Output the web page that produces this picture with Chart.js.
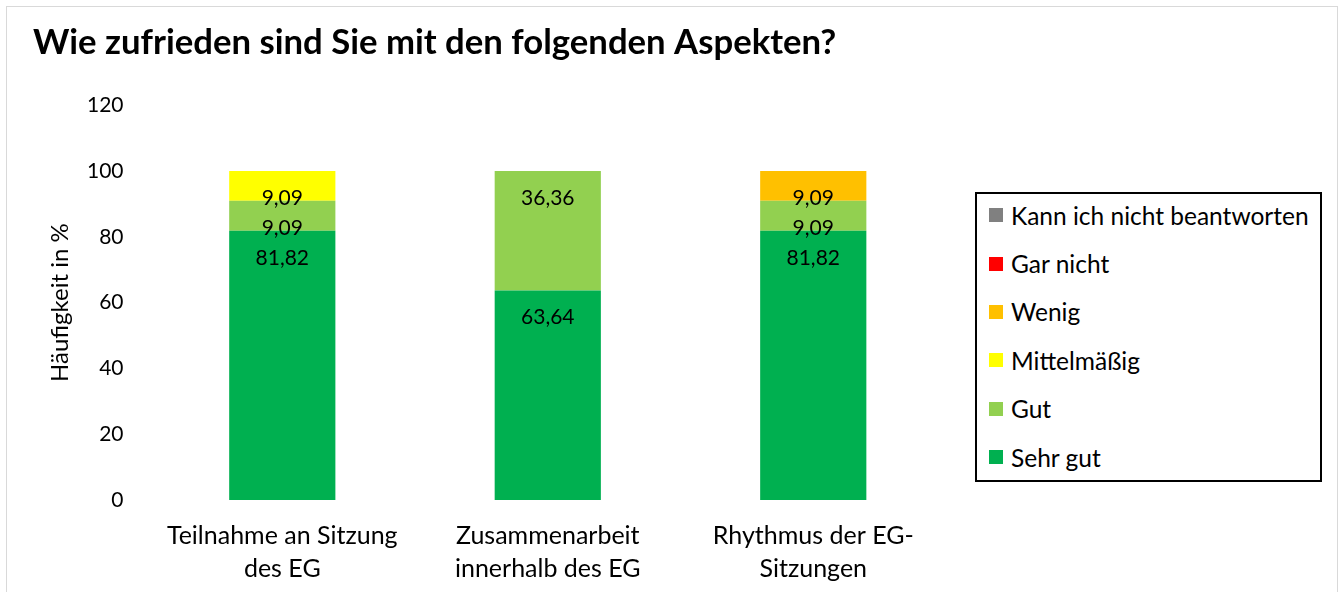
<!DOCTYPE html>
<html lang="de">
<head>
<meta charset="utf-8">
<title>Wie zufrieden sind Sie mit den folgenden Aspekten?</title>
<script src="https://cdn.jsdelivr.net/npm/chart.js@4.4.1/dist/chart.umd.min.js"></script>
<style>
    html, body { margin: 0; padding: 0; background: #fff; }
    body { width: 1343px; height: 592px; overflow: hidden; position: relative; font-family: Lato, sans-serif; }
    #frame { position: absolute; left: 6px; top: 6px; width: 1332px; height: 620px; border: 1px solid #d9d9d9; box-sizing: border-box; pointer-events: none; }
    #wrap { position: absolute; left: 0; top: 0; width: 1343px; height: 592px; }
    #legend { position: absolute; left: 975px; top: 192px; width: 347px; height: 290px; border: 2px solid #000; box-sizing: border-box; background: #fff; }
    #legend ul { list-style: none; margin: -3px 0 0 0; padding: 0; }
    #legend li { height: 48.4px; display: flex; align-items: center; font-size: 24.5px; color: #000; white-space: nowrap; }
    #legend .box { width: 14px; height: 14px; margin-left: 12px; margin-right: 8px; flex: none; }
</style>
</head>
<body>
<div id="frame"></div>
<div id="wrap"><canvas id="chart"></canvas></div>
<div id="legend"><ul></ul></div>
<script>
'use strict';

// categories (wrapped like in the original)
const categories = [
    ['Teilnahme an Sitzung', 'des EG'],
    ['Zusammenarbeit', 'innerhalb des EG'],
    ['Rhythmus der EG-', 'Sitzungen']
];

// answers in % per category
const sehrGut = [81.82, 63.64, 81.82];
const gut = [9.09, 36.36, 9.09];
const mittelmaessig = [9.09, 0, 0];
const wenig = [0, 0, 9.09];
const garNicht = [0, 0, 0];
const kannNicht = [0, 0, 0];

const yMax = 120;
const yStep = 20;

const colors = {
    sehrGut: '#00b050',
    gut: '#92d050',
    mittel: '#ffff00',
    wenig: '#ffc000',
    garNicht: '#ff0000',
    kannNicht: '#808080'
};

const baseFont = 'Lato';

// value labels near the top of each segment
const segmentLabels = {
    id: 'segmentLabels',
    afterDatasetsDraw: function (chart) {
        const ctx = chart.ctx;
        ctx.save();
        ctx.font = '21px ' + baseFont;
        ctx.fillStyle = '#000';
        ctx.textAlign = 'center';
        ctx.textBaseline = 'middle';
        chart.data.datasets.forEach(function (dataset, i) {
            const meta = chart.getDatasetMeta(i);
            meta.data.forEach(function (bar, j) {
                const v = dataset.data[j];
                if (!v) return;
                ctx.fillText(v.toFixed(2).replace('.', ','), bar.x, bar.y + 27);
            });
        });
        ctx.restore();
    }
};

function dataset(label, values, color) {
    return {
        label: label,
        data: values,
        backgroundColor: color,
        borderWidth: 0,
        barPercentage: 1,
        categoryPercentage: 0.4
    };
}

const chart = new Chart(document.getElementById('chart'), {
    type: 'bar',
    data: {
        labels: categories,
        datasets: [
            dataset('Sehr gut', sehrGut, colors.sehrGut),
            dataset('Gut', gut, colors.gut),
            dataset('Mittelmäßig', mittelmaessig, colors.mittel),
            dataset('Wenig', wenig, colors.wenig),
            dataset('Gar nicht', garNicht, colors.garNicht),
            dataset('Kann ich nicht beantworten', kannNicht, colors.kannNicht)
        ]
    },
    options: {
        responsive: true,
        maintainAspectRatio: false,
        animation: false,
        layout: {
            padding: { left: 33, right: 397, top: 0, bottom: 7 }
        },
        scales: {
            x: {
                stacked: true,
                grid: { display: false, drawTicks: false },
                border: { display: false },
                ticks: {
                    color: '#000',
                    padding: 19,
                    maxRotation: 0,
                    font: { family: baseFont, size: 25, lineHeight: 1.32 }
                },
                // chart.js keeps tick padding on both sides of the labels, drop the outer one
                afterFit: function (scale) {
                    scale.paddingLeft = 0;
                    scale.paddingRight = 0;
                    scale.height -= scale.options.ticks.padding;
                }
            },
            y: {
                stacked: true,
                min: 0,
                max: yMax,
                grid: { display: false, drawTicks: false },
                border: { display: false },
                ticks: {
                    stepSize: yStep,
                    color: '#000',
                    padding: 26,
                    font: { family: baseFont, size: 21 }
                },
                title: {
                    display: true,
                    text: 'Häufigkeit in %',
                    color: '#000',
                    padding: { top: 12.6, bottom: 12.6 },
                    font: { family: baseFont, size: 24, lineHeight: 1.2 }
                },
                afterFit: function (scale) {
                    scale.width -= scale.options.ticks.padding;
                }
            }
        },
        plugins: {
            legend: { display: false },
            tooltip: { enabled: false },
            title: {
                display: true,
                text: 'Wie zufrieden sind Sie mit den folgenden Aspekten?',
                align: 'start',
                color: '#000',
                padding: { top: 22, bottom: 41.5 },
                font: { family: baseFont, size: 34.7, weight: 'bold', lineHeight: 1.2 }
            }
        }
    },
    plugins: [segmentLabels]
});

// legend box, top entry = last dataset (as in Excel)
const legendList = document.querySelector('#legend ul');
chart.data.datasets.slice().reverse().forEach(function (ds) {
    const li = document.createElement('li');
    const box = document.createElement('span');
    box.className = 'box';
    box.style.background = ds.backgroundColor;
    li.appendChild(box);
    li.appendChild(document.createTextNode(ds.label));
    legendList.appendChild(li);
});
</script>
</body>
</html>
